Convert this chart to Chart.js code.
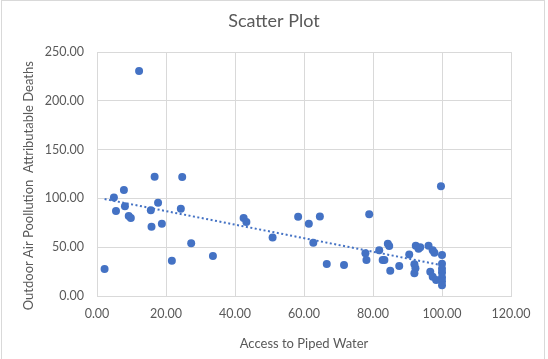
<!DOCTYPE html>
<html>
<head>
<meta charset="utf-8">
<script src="https://cdn.jsdelivr.net/npm/chart.js@4"></script>
<style>
  html, body { margin: 0; padding: 0; background: #fff; }
  #wrap { position: relative; width: 548px; height: 359px; overflow: hidden; }
  #frame { position: absolute; left: 1px; top: 0; width: 544px; height: 380px; border: 1px solid #d9d9d9; box-sizing: border-box; }
  canvas { position: absolute; left: 0; top: 0; }
</style>
</head>
<body>
<div id="wrap">
  <div id="frame"></div>
  <canvas id="scatter-chart" width="548" height="359"></canvas>
</div>
<script>
// Données
const waterAccess = [
    2.2, 4.9, 5.5, 7.8, 8.1, 9.2, 9.8, 12.2, 15.6, 15.8,
    16.7, 17.7, 18.8, 21.7, 24.3, 24.7, 27.3, 33.6, 42.5, 43.3,
    50.9, 58.3, 61.4, 62.7, 64.6, 66.6, 71.6, 77.8, 78.1, 78.9,
    81.8, 82.8, 83.3, 84.3, 84.7, 85.0, 87.6, 90.5, 92.4, 93.2,
    93.7, 92.0, 92.3, 92.0, 96.1, 97.3, 97.8, 96.6, 97.3, 98.3,
    99.7, 100, 100, 100, 100, 100, 100, 100
];
const pollutionDeaths = [
    27.7, 101, 87, 108.6, 92, 82, 80, 230.5, 88, 71,
    122.2, 95.6, 74, 36.2, 89.5, 122, 54, 41, 80, 75.8,
    60, 81.2, 74, 54.6, 81.6, 32.8, 31.8, 43.8, 36.9, 83.7,
    47, 36.9, 36.9, 53.6, 51.2, 26, 30.7, 42.5, 51.5, 48.5,
    50, 32.5, 28.4, 23.3, 51.5, 47, 44.4, 24.9, 19.8, 16.4,
    112.4, 42, 33, 28, 24, 19, 15, 11
];
// Courbe de tendance (extrémités lues)
const trendX = [2.2, 100];
const trendY = [99.4, 31.5];

const xTicks = [0, 20, 40, 60, 80, 100, 120];
const yTicks = [0, 50, 100, 150, 200, 250];

const blue = '#4472C4';
const grey = '#595959';
const fontFamily = 'Lato, "Open Sans", sans-serif';

const ctx = document.getElementById('scatter-chart').getContext('2d');

new Chart(ctx, {
    type: 'scatter',
    data: {
        datasets: [{
            label: 'Points',
            data: waterAccess.map((x, i) => ({ x: x, y: pollutionDeaths[i] })),
            backgroundColor: blue,
            borderColor: blue,
            pointRadius: 4,
            pointHoverRadius: 4,
            borderWidth: 0
        }, {
            label: 'Tendance',
            type: 'line',
            data: trendX.map((x, i) => ({ x: x, y: trendY[i] })),
            borderColor: blue,
            borderWidth: 2,
            borderDash: [2, 2.5],
            pointRadius: 0,
            fill: false
        }]
    },
    options: {
        responsive: false,
        animation: false,
        layout: { padding: 0 },
        plugins: {
            legend: { display: false },
            tooltip: { enabled: false },
            title: {
                display: true,
                text: 'Scatter Plot',
                color: grey,
                font: { family: fontFamily, size: 18, weight: 'normal' },
                padding: { top: 10, bottom: 20.5 }
            }
        },
        scales: {
            x: {
                type: 'linear',
                min: 0,
                max: 120,
                afterBuildTicks: axis => { axis.ticks = xTicks.map(v => ({ value: v })); },
                afterFit: axis => { axis.height = 63; },
                ticks: {
                    color: grey,
                    padding: 10,
                    font: { family: fontFamily, size: 12.5 },
                    maxRotation: 0,
                    callback: v => v.toFixed(2)
                },
                grid: { color: '#d9d9d9', drawTicks: false },
                border: { color: '#d9d9d9' },
                title: {
                    display: true,
                    text: 'Access to Piped Water',
                    color: grey,
                    font: { family: fontFamily, size: 13 },
                    padding: { top: 0, bottom: 7 }
                }
            },
            y: {
                type: 'linear',
                min: 0,
                max: 250,
                afterBuildTicks: axis => { axis.ticks = yTicks.map(v => ({ value: v })); },
                afterFit: axis => { axis.width = 97; },
                ticks: {
                    color: grey,
                    padding: 13,
                    font: { family: fontFamily, size: 12.5 },
                    callback: v => v.toFixed(2)
                },
                grid: { color: '#d9d9d9', drawTicks: false },
                border: { display: false },
                title: {
                    display: true,
                    text: 'Outdoor Air Poollution  Attributable Deaths       ',
                    color: grey,
                    font: { family: fontFamily, size: 13 },
                    padding: { top: 21, bottom: 0 }
                }
            },
            // axe vide à droite pour réserver la marge
            yRight: {
                type: 'linear',
                position: 'right',
                display: true,
                afterFit: axis => { axis.width = 37; },
                ticks: { display: false },
                grid: { display: false, drawTicks: false },
                border: { display: false }
            }
        }
    }
});
</script>
</body>
</html>
